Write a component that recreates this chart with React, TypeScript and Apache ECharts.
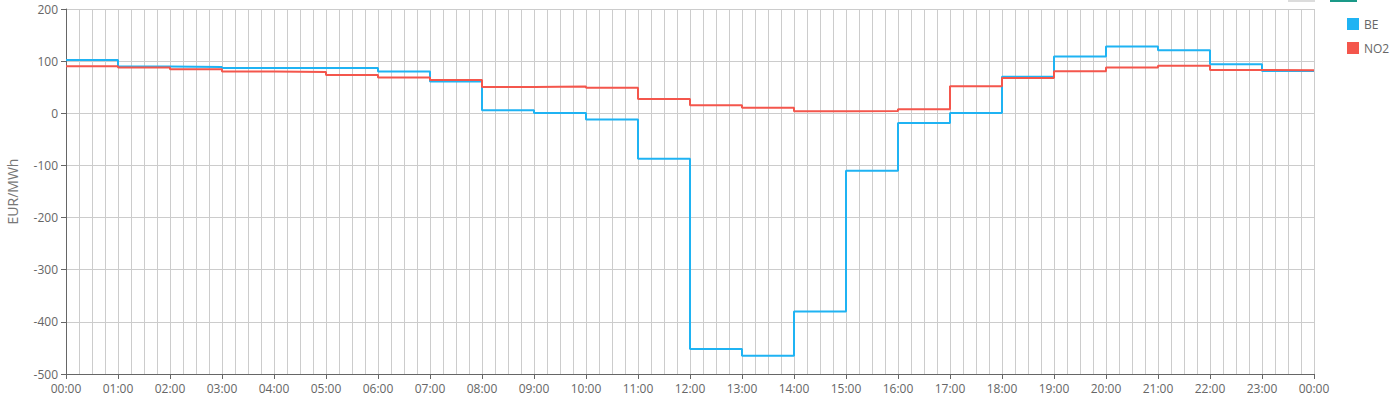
import React, { useEffect, useRef } from "react";
import * as echarts from "echarts";

const hours = [0, 1, 2, 3, 4, 5, 6, 7, 8, 9, 10, 11, 12, 13, 14, 15, 16, 17, 18, 19, 20, 21, 22, 23];
const beValues = [102, 89.5, 89, 87, 87, 87, 80, 61, 6, 0.5, -12, -87, -452, -465, -380, -110, -18.5, 0.5, 70, 109, 128, 121, 94, 81];
const no2Values = [90, 87.6, 84.5, 80, 79, 73.5, 68.4, 64, 50.5, 51.5, 49, 27.5, 15.3, 10.8, 3.8, 4.4, 7.6, 51.8, 67.5, 80.6, 87.6, 91.4, 83, 82.5];
const seriesNames = ["BE", "NO2"];
const colors = ["#1fb3f3", "#f4564c"];
const yName = "EUR/MWh";

const FONT = "'Open Sans', sans-serif";

function toSteps(vals: number[]) {
  const pts = hours.map((h, i) => [h, vals[i]]);
  pts.push([24, vals[vals.length - 1]]);
  return pts;
}

export default function App() {
  const ref = useRef<HTMLDivElement>(null);
  useEffect(() => {
    if (!ref.current) return;
    const chart = echarts.init(ref.current, undefined, { renderer: "svg" });
    const pad = (n: number) => (n < 10 ? "0" + n : "" + n);
    chart.setOption({
      animation: false,
      textStyle: { fontFamily: FONT },
      color: colors,
      grid: { left: 66, right: 86, top: 9, bottom: 26, containLabel: false, outerBoundsMode: "none" },
      legend: {
        orient: "vertical",
        left: 1342,
        top: 13,
        itemWidth: 12,
        itemHeight: 12,
        itemGap: 12,
        icon: "rect",
        data: seriesNames,
        textStyle: { color: "#666", fontSize: 12, fontFamily: FONT },
      },
      graphic: [
        { type: "rect", shape: { x: 1288, y: 0, width: 27, height: 2 }, style: { fill: "#dcdcdc" } },
        { type: "rect", shape: { x: 1330, y: 0, width: 27, height: 2 }, style: { fill: "#1a9988" } },
      ],
      xAxis: [
        {
          type: "value",
          min: 0,
          max: 24,
          interval: 0.25,
          position: "bottom",
          axisLine: { show: false },
          axisTick: { show: false },
          axisLabel: { show: false },
          splitLine: { show: true, lineStyle: { color: "#cccccc", width: 1 } },
        },
        {
          type: "value",
          min: 0,
          max: 24,
          interval: 1,
          position: "bottom",
          axisLine: { show: true, onZero: false, lineStyle: { color: "#666" } },
          axisTick: { show: true, length: 5, lineStyle: { color: "#666" } },
          axisLabel: {
            color: "#666",
            fontSize: 12,
            fontFamily: FONT,
            margin: 8,
            formatter: (v: number) => pad(Math.round(v) % 24) + ":00",
          },
          splitLine: { show: false },
        },
      ],
      yAxis: {
        type: "value",
        min: -500,
        max: 200,
        interval: 100,
        name: yName,
        nameLocation: "middle",
        nameGap: 47,
        nameTextStyle: { color: "#777", fontSize: 14, fontFamily: FONT },
        axisLine: { show: true, lineStyle: { color: "#666" } },
        axisTick: { show: true, length: 5, lineStyle: { color: "#666" } },
        axisLabel: { color: "#666", fontSize: 12, fontFamily: FONT, margin: 8 },
        splitLine: { show: true, lineStyle: { color: "#cccccc", width: 1 } },
      },
      series: [
        {
          name: seriesNames[0],
          type: "line",
          step: "end",
          xAxisIndex: 1,
          data: toSteps(beValues),
          showSymbol: false,
          symbol: "none",
          lineStyle: { width: 2, color: colors[0] },
          itemStyle: { color: colors[0] },
        },
        {
          name: seriesNames[1],
          type: "line",
          step: "end",
          xAxisIndex: 1,
          data: toSteps(no2Values),
          showSymbol: false,
          symbol: "none",
          lineStyle: { width: 2, color: colors[1] },
          itemStyle: { color: colors[1] },
        },
      ],
    });
    return () => chart.dispose();
  }, []);
  return <div ref={ref} style={{ width: 1400, height: 400, position: "absolute", left: 0, top: 0 }} />;
}
